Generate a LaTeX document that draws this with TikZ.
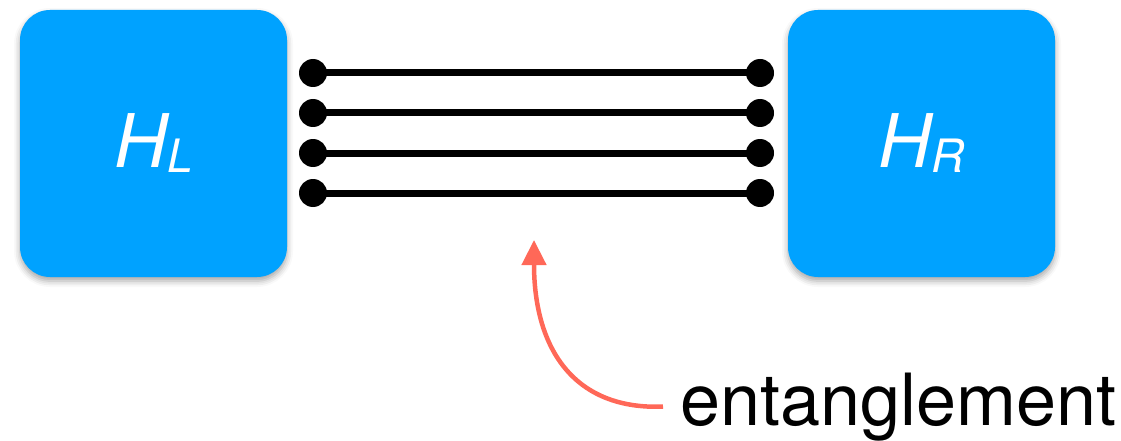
\documentclass[tikz,border=0pt]{standalone}
\usepackage{fontspec}
\setmainfont{TeX Gyre Heros}
\usetikzlibrary{arrows.meta,shadows.blur}
\definecolor{hambox}{RGB}{0,162,255}
\definecolor{entred}{RGB}{255,104,88}
\pgfdeclarelayer{bonds}
\pgfsetlayers{bonds,main}
\tikzset{
  hambox/.style={fill=hambox, draw=none, rounded corners=30pt,
    minimum width=267pt, minimum height=267pt, inner sep=0pt,
    blur shadow={shadow xshift=0pt, shadow yshift=-4pt, shadow blur radius=6pt, shadow opacity=35},
    text=white, font=\fontsize{74}{80}\selectfont\itshape},
  site/.style={circle, fill=black, minimum size=28pt, inner sep=0pt},
  bond/.style={line width=7pt, black},
  entarrow/.style={line width=4.5pt, entred, -{Triangle[length=25pt,width=24pt]}},
  label/.style={font=\fontsize{72}{80}\selectfont, inner sep=0pt}
}
\newcommand{\hsub}[1]{H\raisebox{-5pt}{\fontsize{46}{50}\selectfont #1}}
\begin{document}
\begin{tikzpicture}[x=1pt, y=-1pt]
  \useasboundingbox (0,0) rectangle (1121,441);
  % the two blocks
  \node[hambox] (HL) at (153.5,143.5) {\hsub{L}};
  \node[hambox] (HR) at (921.5,143.5) {\hsub{R}};
  % end sites of the four bonds
  \foreach \i/\y in {1/73,2/113,3/153,4/193}{
    \node[site] (l\i) at (313,\y) {};
    \node[site] (r\i) at (760,\y) {};
  }
  % bonds, drawn beneath the sites
  \begin{pgfonlayer}{bonds}
    \foreach \i in {1,...,4}{
      \draw[bond] (l\i.center) -- (r\i.center);
    }
  \end{pgfonlayer}
  % label and pointer
  \node[label, anchor=base west] (ent) at (680,425) {entanglement};
  \coordinate (tip) at (534,240);
  \draw[entarrow] ([xshift=-17pt]ent.west) .. controls (575,410) and (534,350) .. (tip);
\end{tikzpicture}
\end{document}
